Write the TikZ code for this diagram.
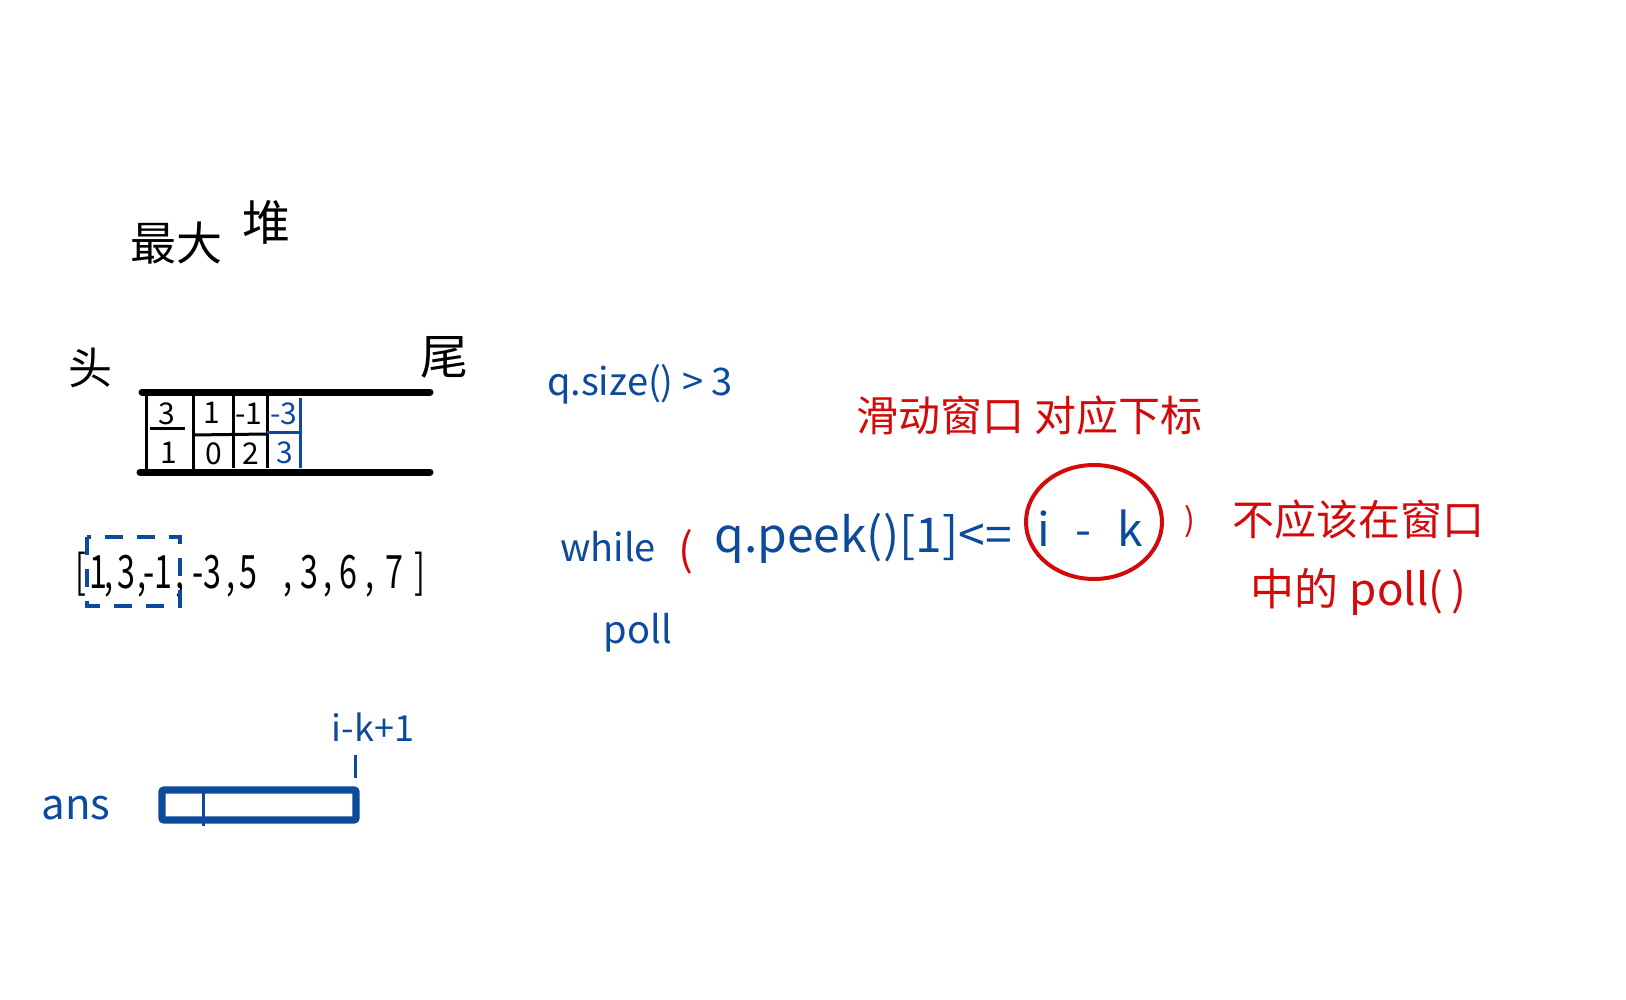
\documentclass[tikz,border=0pt]{standalone}
\usepackage{fontspec}
\usepackage{graphicx}
\setmainfont{Noto Sans CJK SC}
\usetikzlibrary{shapes.geometric}
\definecolor{inkblue}{HTML}{0B4A9C}
\definecolor{inkred}{HTML}{D40A0A}
\begin{document}
\begin{tikzpicture}[x=0.5pt,y=-0.5pt,
  bar/.style={line width=3.5pt,line cap=round},
  cellline/.style={line width=1.5pt},
  lbl/.style={inner sep=0pt,outer sep=0pt},
  cellnum/.style={lbl,font=\fontsize{15}{18}\selectfont},
  arrtok/.style={lbl,anchor=base,font=\fontsize{23}{26}\selectfont},
  bluetxt/.style={lbl,text=inkblue},
  redtxt/.style={lbl,text=inkred},
]
\useasboundingbox[fill=white] (0,0) rectangle (1626,1000);

% title
\node[lbl,font=\fontsize{23}{26}\selectfont] (t1) at (176,243) {最大};
\node[lbl,font=\fontsize{24}{28}\selectfont] (t2) at (266,222) {堆};

% head / tail
\node[lbl,font=\fontsize{22}{26}\selectfont] (head) at (90,368) {头};
\node[lbl,font=\fontsize{24}{28}\selectfont] (tail) at (444,357) {尾};

% queue
\draw[bar] (142,392) -- (430,392);
\draw[bar] (140,472) -- (430,472);
\draw[cellline] (146,392) -- (146,472);
\draw[cellline] (193,394) -- (193,472);
\draw[cellline] (233,395) -- (233,468);
\draw[cellline] (267,395) -- (267,468);
\draw[cellline,inkblue] (300,398) -- (300,468);
\draw[cellline] (150,428) -- (185,428);
\draw[cellline] (193,435) -- (267,434);
\draw[cellline,inkblue] (267,432) -- (300,432);

\node[cellnum] (q1a) at (167,414) {3};
\node[cellnum] (q2a) at (212,413) {1};
\node[cellnum] (q3a) at (249,414) {-1};
\node[cellnum,text=inkblue] (q4a) at (284,414) {-3};
\node[cellnum] (q1b) at (169,453) {1};
\node[cellnum] (q2b) at (214,454) {0};
\node[cellnum] (q3b) at (251,454) {2};
\node[cellnum,text=inkblue] (q4b) at (285,453) {3};

% array
\foreach \x/\t [count=\i] in {81/{[},98/1,109/{,},126/3,142/{,},158/{-1},180/{,},207/{-3},231/{,},248/5,288/{,},309/3,328/{,},348/6,370/{,},394/7,420/{]}}
  \node[arrtok] (arr\i) at (\x,588) {\scalebox{0.7}[1]{\t}};
\draw[inkblue,line width=2pt,dash pattern=on 9pt off 7pt] (87,537) rectangle (180,606);

% ans
\node[bluetxt,font=\fontsize{21}{24}\selectfont] (ans) at (76,808) {ans};
\draw[inkblue,line width=3.6pt,rounded corners=1pt] (162,790) rectangle (356,820);
\draw[inkblue,line width=1.5pt] (203,790) -- (203,826);
\node[bluetxt,font=\fontsize{18}{20}\selectfont] (ik1) at (373,727) {i-k+1};
\coordinate (tickTop) at (355,755);
\draw[inkblue,line width=1.5pt] (tickTop) -- (355,778);

% q.size
\node[bluetxt,font=\fontsize{19}{22}\selectfont] (qsize) at (640,384) {q.size() > 3};

% red title
\node[redtxt,font=\fontsize{21}{24}\selectfont] (rtitle) at (1029,416) {滑动窗口\hspace{5pt}对应下标};

% while line
\node[bluetxt,font=\fontsize{19}{22}\selectfont] (while) at (608,547) {while};
\node[redtxt,font=\fontsize{22}{24}\selectfont] (lp) at (686,552) {(};
\node[bluetxt,font=\fontsize{24}{26}\selectfont] (peek) at (863,538) {q.peek()[1]<=};
\node[bluetxt,font=\fontsize{23}{26}\selectfont] (ik) at (1090,528) {i\;\;-\;\;k};
\draw[inkred,line width=2pt] (1094,522) ellipse [x radius=34pt, y radius=28.5pt];
\node[redtxt,font=\fontsize{16}{18}\selectfont] (rp) at (1190,522) {)};
\node[bluetxt,font=\fontsize{19}{22}\selectfont] (poll) at (638,633) {poll};

% red note
\node[redtxt,font=\fontsize{21}{24}\selectfont] (note1) at (1358,520) {不应该在窗口};
\node[redtxt,font=\fontsize{22}{24}\selectfont] (note2) at (1358,592) {中的\hspace{6pt}poll(\,)};
\end{tikzpicture}
\end{document}
